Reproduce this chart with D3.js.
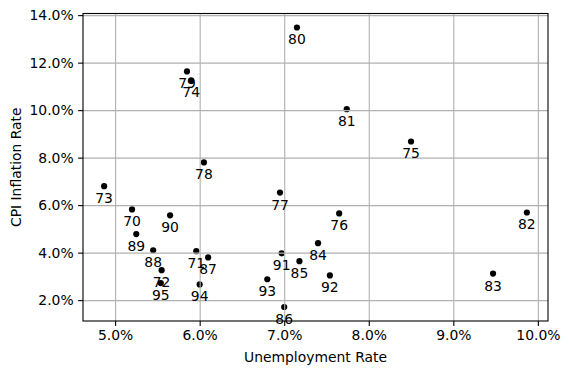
<!DOCTYPE html>
<html lang="en">
<head>
	<meta charset="UTF-8">
	<script src="https://d3js.org/d3.v7.min.js"></script>
	<title>Unemployment vs CPI Inflation</title>
	<style type="text/css">
		body{ margin: 0; background: white; }
		text{ font-family: "DejaVu Sans", sans-serif; fill: black; }
		.grid line{ stroke: #b0b0b0; stroke-width: 1.1px; }
		.axis path, .axis line{ stroke: black; stroke-width: 1.1px; }
	</style>
</head>
<body onload="main()">
	<svg width="569" height="374"></svg>
</body>
<script>
	// data
	var years = ["70","71","72","73","74","75","76","77","78","79","80","81","82",
	             "83","84","85","86","87","88","89","90","91","92","93","94","95"];
	var unemployment = [5.20, 5.96, 5.55, 4.87, 5.90, 8.50, 7.65, 6.95, 6.05, 5.85, 7.15, 7.74, 9.87,
	                    9.47, 7.40, 7.18, 7.00, 6.10, 5.45, 5.25, 5.65, 6.97, 7.54, 6.80, 6.00, 5.54];
	var inflation = [5.82, 4.06, 3.26, 6.80, 11.25, 8.68, 5.65, 6.53, 7.80, 11.63, 13.48, 10.04, 5.69,
	                 3.12, 4.40, 3.64, 1.71, 3.80, 4.10, 4.78, 5.57, 3.97, 3.04, 2.88, 2.66, 2.72];
	var xTicks = [5, 6, 7, 8, 9, 10];
	var yTicks = [2, 4, 6, 8, 10, 12, 14];

	function main() {
		var svg = d3.select("svg"),
			left = 83, top = 13.5,
			width = 465, height = 307.5;

		var data = years.map(function(y, i) {
			return {year: y, u: unemployment[i], cpi: inflation[i]};
		});

		// matplotlib style 5% margins
		var xe = d3.extent(unemployment), ye = d3.extent(inflation);
		var xm = (xe[1] - xe[0]) * 0.05, ym = (ye[1] - ye[0]) * 0.05;

		var xScale = d3.scaleLinear().domain([xe[0] - xm, xe[1] + xm]).range([0, width]),
			yScale = d3.scaleLinear().domain([ye[0] - ym, ye[1] + ym]).range([height, 0]);

		var g = svg.append("g")
			.attr("transform", "translate(" + left + "," + top + ")");

		var fmt = function(d) { return d.toFixed(1) + "%"; };

		// points first, grid is drawn over them
		g.selectAll(".dot")
			.data(data)
			.enter().append("circle")
			.attr("class", "dot")
			.attr("cx", function(d) { return xScale(d.u); })
			.attr("cy", function(d) { return yScale(d.cpi); })
			.attr("r", 3.1)
			.attr("fill", "black");

		g.append("g")
			.attr("class", "grid")
			.attr("transform", "translate(0," + height + ")")
			.call(d3.axisBottom(xScale).tickValues(xTicks).tickSize(-height).tickFormat(""))
			.call(function(s) { s.select(".domain").remove(); });

		g.append("g")
			.attr("class", "grid")
			.call(d3.axisLeft(yScale).tickValues(yTicks).tickSize(-width).tickFormat(""))
			.call(function(s) { s.select(".domain").remove(); });

		g.selectAll(".lbl")
			.data(data)
			.enter().append("text")
			.attr("class", "lbl")
			.attr("x", function(d) { return xScale(d.u); })
			.attr("y", function(d) { return yScale(d.cpi) + 17; })
			.attr("text-anchor", "middle")
			.attr("font-size", "13.9px")
			.text(function(d) { return d.year; });

		// frame
		g.append("rect")
			.attr("width", width)
			.attr("height", height)
			.attr("fill", "none")
			.attr("stroke", "black")
			.attr("stroke-width", 1.1);

		var xAxis = g.append("g")
			.attr("class", "axis")
			.attr("transform", "translate(0," + height + ")")
			.call(d3.axisBottom(xScale).tickValues(xTicks).tickSize(4.9).tickPadding(4.5).tickFormat(fmt));
		xAxis.select(".domain").remove();
		xAxis.selectAll("text").attr("font-size", "13.9px").attr("font-family", "DejaVu Sans");

		var yAxis = g.append("g")
			.attr("class", "axis")
			.call(d3.axisLeft(yScale).tickValues(yTicks).tickSize(4.9).tickPadding(4.5).tickFormat(fmt));
		yAxis.select(".domain").remove();
		yAxis.selectAll("text").attr("font-size", "13.9px").attr("font-family", "DejaVu Sans");

		svg.append("text")
			.attr("x", left + width / 2)
			.attr("y", 362)
			.attr("text-anchor", "middle")
			.attr("font-size", "13.9px")
			.text("Unemployment Rate");

		svg.append("text")
			.attr("transform", "translate(21," + (top + height / 2) + ") rotate(-90)")
			.attr("text-anchor", "middle")
			.attr("font-size", "13.9px")
			.text("CPI Inflation Rate");
	}
</script>
</html>
